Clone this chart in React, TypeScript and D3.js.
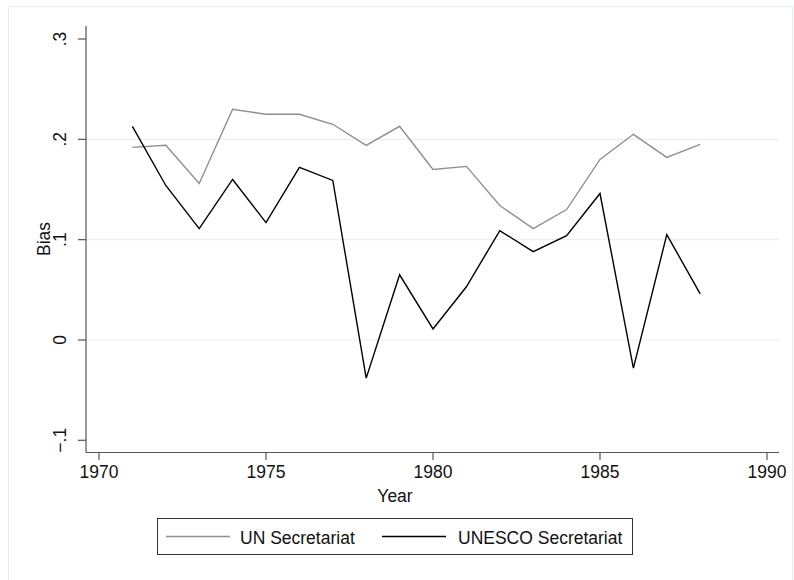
import React from "react";
import * as d3 from "d3";

const years = [1971, 1972, 1973, 1974, 1975, 1976, 1977, 1978, 1979, 1980, 1981, 1982, 1983, 1984, 1985, 1986, 1987, 1988];
const unSecretariat = [0.192, 0.194, 0.156, 0.230, 0.225, 0.225, 0.215, 0.194, 0.213, 0.170, 0.173, 0.134, 0.111, 0.130, 0.180, 0.205, 0.182, 0.195];
const unescoSecretariat = [0.213, 0.154, 0.111, 0.160, 0.117, 0.172, 0.159, -0.038, 0.065, 0.011, 0.053, 0.109, 0.088, 0.104, 0.146, -0.028, 0.105, 0.046];
const xTicks = [1970, 1975, 1980, 1985, 1990];
const yTicks = [-0.1, 0, 0.1, 0.2, 0.3];
const yTickLabels = ["\u2212.1", "0", ".1", ".2", ".3"];
const gridValues = [0, 0.1, 0.2];
const seriesNames = ["UN Secretariat", "UNESCO Secretariat"];

const W = 794;
const H = 580;
const FONT = "'Liberation Sans', Arial, Helvetica, sans-serif";
const FS = 17.5;

export default function App() {
  const x = d3.scaleLinear().domain([1970, 1990]).range([99, 767]);
  const y = d3.scaleLinear().domain([-0.1, 0.3]).range([440.3, 39]);
  const plotLeft = 86;
  const plotRight = 779;
  const plotTop = 26;
  const plotBottom = 452.5;

  const line = d3
    .line<number>()
    .x((_, i) => x(years[i]))
    .y((d) => y(d));

  const series = [
    { name: seriesNames[0], values: unSecretariat, color: "#8f8f8f" },
    { name: seriesNames[1], values: unescoSecretariat, color: "#000000" },
  ];

  return (
    <svg
      width={W}
      height={H}
      style={{ position: "absolute", left: 0, top: 0, background: "#fff" }}
      fontFamily={FONT}
    >
      {/* outer graph region */}
      <rect x={8.5} y={6.5} width={784} height={600} fill="none" stroke="#e6eeef" strokeWidth={1} />

      {/* grid lines */}
      {gridValues.map((v) => (
        <line key={v} x1={plotLeft} x2={plotRight} y1={y(v)} y2={y(v)} stroke="#e8f0f1" strokeWidth={1.2} />
      ))}

      {/* series */}
      {series.map((s) => (
        <path key={s.name} d={line(s.values) ?? ""} fill="none" stroke={s.color} strokeWidth={1.4} strokeLinejoin="miter" />
      ))}

      {/* y axis */}
      <line x1={plotLeft} x2={plotLeft} y1={plotTop} y2={plotBottom} stroke="#555" strokeWidth={1.2} />
      {yTicks.map((v, i) => (
        <g key={v}>
          <line x1={78} x2={plotLeft} y1={y(v)} y2={y(v)} stroke="#555" strokeWidth={1.2} />
          <text
            transform={`translate(66,${y(v)}) rotate(-90)`}
            textAnchor="middle"
            fontSize={FS}
            fill="#111"
          >
            {yTickLabels[i]}
          </text>
        </g>
      ))}
      <text transform={`translate(50,239) rotate(-90)`} textAnchor="middle" fontSize={FS} fill="#111">
        Bias
      </text>

      {/* x axis */}
      <line x1={plotLeft} x2={plotRight} y1={plotBottom} y2={plotBottom} stroke="#555" strokeWidth={1.2} />
      {xTicks.map((t) => (
        <g key={t}>
          <line x1={x(t)} x2={x(t)} y1={plotBottom} y2={460} stroke="#555" strokeWidth={1.2} />
          <text x={x(t)} y={478} textAnchor="middle" fontSize={FS} fill="#111">
            {t}
          </text>
        </g>
      ))}
      <text x={395} y={502} textAnchor="middle" fontSize={FS} fill="#111">
        Year
      </text>

      {/* legend */}
      <rect x={157.5} y={518.5} width={475} height={36} fill="#fff" stroke="#333" strokeWidth={1} />
      <line x1={166} x2={230} y1={536.5} y2={536.5} stroke={series[0].color} strokeWidth={1.4} />
      <text x={240} y={544} fontSize={FS} fill="#111">
        {series[0].name}
      </text>
      <line x1={382} x2={446} y1={536.5} y2={536.5} stroke={series[1].color} strokeWidth={1.4} />
      <text x={458} y={544} fontSize={FS} fill="#111">
        {series[1].name}
      </text>
    </svg>
  );
}
